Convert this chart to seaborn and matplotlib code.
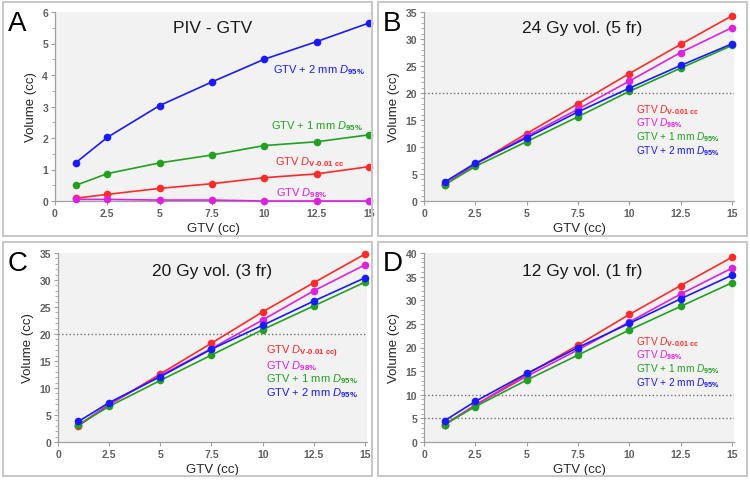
import numpy as np
import pandas as pd
import seaborn as sns
import matplotlib.pyplot as plt
from matplotlib.patches import Rectangle
from matplotlib.ticker import AutoMinorLocator

# GTV sizes (cc)
gtv = [1, 2.5, 5, 7.5, 10, 12.5, 15]

# A: PIV - GTV
a_dv = [0.09, 0.21, 0.40, 0.55, 0.74, 0.86, 1.09]
a_d98 = [0.05, 0.05, 0.03, 0.03, 0.0, 0.0, 0.0]
a_1mm = [0.50, 0.87, 1.21, 1.46, 1.76, 1.88, 2.10]
a_2mm = [1.22, 2.02, 3.03, 3.78, 4.50, 5.06, 5.65]

# B: 24 Gy vol. (5 fr)
b_dv = [3.0, 6.8, 12.5, 18.0, 23.6, 29.0, 34.3]
b_d98 = [3.1, 6.8, 12.0, 17.0, 22.2, 27.5, 32.1]
b_1mm = [3.0, 6.4, 11.0, 15.6, 20.3, 24.6, 28.8]
b_2mm = [3.5, 7.0, 11.7, 16.5, 20.9, 25.1, 29.1]

# C: 20 Gy vol. (3 fr)
c_dv = [3.0, 6.9, 12.6, 18.3, 24.1, 29.5, 34.8]
c_d98 = [3.1, 7.0, 12.3, 17.3, 22.6, 28.0, 32.8]
c_1mm = [3.2, 6.6, 11.4, 16.1, 20.8, 25.2, 29.6]
c_2mm = [3.8, 7.3, 12.1, 17.2, 21.6, 26.1, 30.4]

# D: 12 Gy vol. (1 fr)
d_dv = [3.6, 7.8, 14.3, 20.5, 27.0, 33.1, 39.1]
d_d98 = [3.7, 7.8, 13.9, 19.5, 25.4, 31.3, 36.8]
d_1mm = [3.7, 7.5, 13.1, 18.4, 23.7, 28.7, 33.7]
d_2mm = [4.5, 8.6, 14.5, 20.0, 25.1, 30.3, 35.3]

series = ["dv", "d98", "1mm", "2mm"]
colors = {"dv": "#ff2a2a", "d98": "#dd22dd", "1mm": "#22a022", "2mm": "#1a1aff"}

hy = "\u2010"
lbl = {
    "dv": r"GTV $\mathit{D}_{\mathbf{V" + hy + r"0.01\ cc}}$",
    "d98": r"GTV $\mathit{D}_{\mathbf{98\%}}$",
    "1mm": r"GTV + 1 mm $\mathit{D}_{\mathbf{95\%}}$",
    "2mm": r"GTV + 2 mm $\mathit{D}_{\mathbf{95\%}}$",
}

panels = [
    ("A", "PIV - GTV", [a_dv, a_d98, a_1mm, a_2mm], 6, 1, 2, []),
    ("B", "24 Gy vol. (5 fr)", [b_dv, b_d98, b_1mm, b_2mm], 35, 5, 5, [20]),
    ("C", "20 Gy vol. (3 fr)", [c_dv, c_d98, c_1mm, c_2mm], 35, 5, 5, [20]),
    ("D", "12 Gy vol. (1 fr)", [d_dv, d_d98, d_1mm, d_2mm], 40, 5, 5, [5, 10]),
]

sns.set_style("ticks")
plt.rcParams['font.family'] = ['Liberation Sans', 'DejaVu Sans']
plt.rcParams['mathtext.fontset'] = 'custom'
plt.rcParams['mathtext.rm'] = 'Liberation Sans'
plt.rcParams['mathtext.it'] = 'Liberation Sans:italic'
plt.rcParams['mathtext.bf'] = 'Liberation Sans:bold'

W, H = 750, 481
fig = plt.figure(figsize=(7.5, 4.81), dpi=100)

ax_px = {"A": (55, 13, 371, 202), "B": (424, 13, 734, 202),
         "C": (58, 254, 367, 443), "D": (424, 254, 734, 443)}
frame_px = {"A": (3, 3, 372, 237), "B": (378, 3, 747, 237),
            "C": (3, 243, 372, 477), "D": (378, 243, 747, 477)}
title_pos = {"A": (0.50, 0.92), "B": (0.51, 0.92), "C": (0.50, 0.91), "D": (0.51, 0.905)}
label_size = {"A": 8.0, "B": 7.3, "C": 8.0, "D": 7.3}

# label positions (data coords)
label_pos = {
    "A": {"2mm": (14.8, 4.2, "right"), "1mm": (14.7, 2.41, "right"),
          "dv": (13.85, 1.27, "right"), "d98": (13.0, 0.29, "right")},
    "B": {"dv": (10.35, 17.0, "left"), "d98": (10.35, 14.6, "left"),
          "1mm": (10.35, 12.0, "left"), "2mm": (10.35, 9.4, "left")},
    "C": {"dv": (10.15, 16.9, "left"), "d98": (10.15, 14.3, "left"),
          "1mm": (10.15, 11.9, "left"), "2mm": (10.15, 9.3, "left")},
    "D": {"dv": (10.35, 21.4, "left"), "d98": (10.35, 18.6, "left"),
          "1mm": (10.35, 15.7, "left"), "2mm": (10.35, 12.7, "left")},
}

for letter, title, vals, ymax, ystep, nminor, hlines in panels:
    x0, y0, x1, y1 = frame_px[letter]
    fig.add_artist(Rectangle((x0 / W, 1 - y1 / H), (x1 - x0) / W, (y1 - y0) / H,
                             transform=fig.transFigure, fill=False,
                             edgecolor="#c8c8c8", linewidth=1.5))
    l, t, r, b = ax_px[letter]
    ax = fig.add_axes([l / W, 1 - b / H, (r - l) / W, (b - t) / H])
    ax.set_facecolor("#f2f2f2")

    df = pd.DataFrame({
        "GTV": gtv * 4,
        "Volume": sum(vals, []),
        "series": [s for s in series for _ in gtv],
    })
    for yh in hlines:
        ax.axhline(yh, color="#707070", linestyle=":", linewidth=1, zorder=1)
    sns.lineplot(data=df, x="GTV", y="Volume", hue="series", palette=colors,
                 marker="o", markersize=5.5, markeredgewidth=0, linewidth=1.2,
                 legend=False, ax=ax, zorder=3, clip_on=False)

    ax.set_xlim(0, 15.1)
    ax.set_ylim(0, ymax)
    ax.set_xticks([0, 2.5, 5, 7.5, 10, 12.5, 15])
    ax.set_xticklabels(["0", "2.5", "5", "7.5", "10", "12.5", "15"])
    ax.set_yticks(np.arange(0, ymax + 0.1, ystep))
    ax.yaxis.set_minor_locator(AutoMinorLocator(nminor))
    ax.tick_params(axis="both", which="major", labelsize=7.5, colors="#a0a0a0",
                   labelcolor="#606060", length=3, width=0.8, pad=2)
    ax.tick_params(axis="y", which="minor", length=2, width=0.6, colors="#a0a0a0")
    for lab in ax.get_xticklabels() + ax.get_yticklabels():
        lab.set_fontweight("bold")
    for sp in ["top", "right"]:
        ax.spines[sp].set_visible(False)
    for sp in ["left", "bottom"]:
        ax.spines[sp].set_color("#a0a0a0")
        ax.spines[sp].set_linewidth(0.9)
    ax.set_xlabel("GTV (cc)", fontsize=9.5, color="#262626", labelpad=3)
    ax.set_ylabel("Volume (cc)", fontsize=9.5, color="#262626", labelpad=4)

    tx, ty = title_pos[letter]
    ax.text(tx, ty, title, transform=ax.transAxes, ha="center", va="center",
            fontsize=12.5, color="#1a1a1a")

    for s, (lx, ly, ha) in label_pos[letter].items():
        txt = lbl[s]
        if letter == "C" and s == "dv":
            txt = r"GTV $\mathit{D}_{\mathbf{V" + hy + r"0.01\ cc)}}$"
        ax.text(lx, ly, txt, ha=ha, va="center", fontsize=label_size[letter],
                color=colors[s])

    fig.text((x0 + 5) / W, 1 - (y0 + 8) / H, letter, ha="left", va="top",
             fontsize=20, color="black")

fig.savefig("out.png", dpi=100)
